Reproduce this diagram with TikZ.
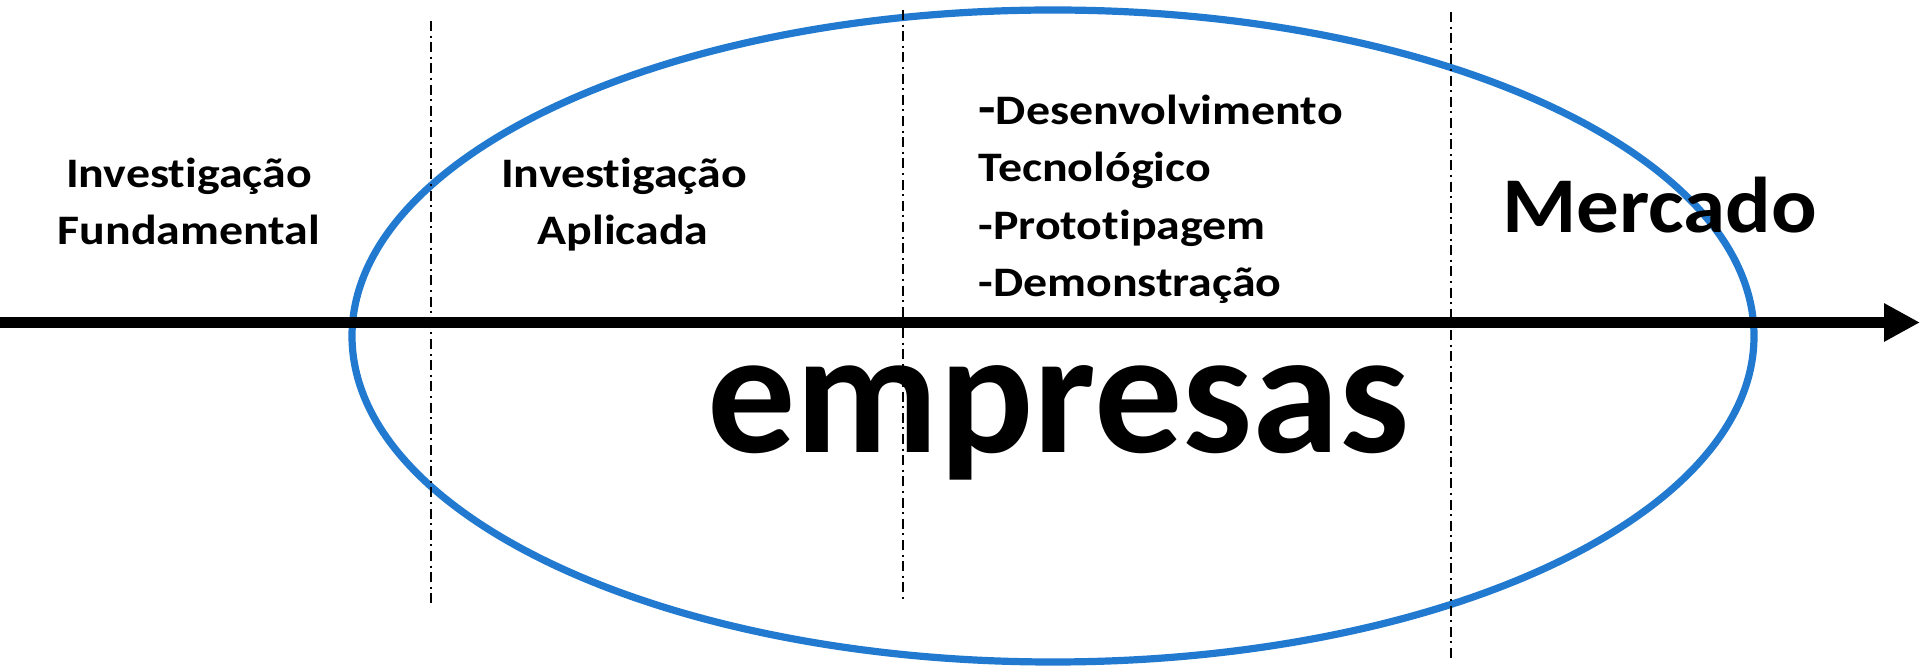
\documentclass[tikz,border=0pt]{standalone}
\usepackage{fontspec}
\setmainfont[Ligatures=NoCommon]{Carlito}
\usetikzlibrary{arrows.meta}
\definecolor{ringblue}{RGB}{33,122,208}
\tikzset{
  lbl/.style={font=\bfseries\fontsize{21}{24}\selectfont, inner sep=0pt, anchor=base, xscale=1.14},
  lstitem/.style={font=\bfseries\fontsize{21}{24}\selectfont, inner sep=0pt, anchor=base west, xscale=1.14},
  divider/.style={line width=0.8pt, dash pattern=on 5pt off 2.3pt on 1pt off 2.3pt},
  ring/.style={draw=ringblue, line width=3.6pt},
  axis/.style={line width=5.8pt, -{Triangle[length=18pt,width=18pt]}}
}
\begin{document}
\begin{tikzpicture}[x=0.5pt,y=-0.5pt]
\useasboundingbox (0,0) rectangle (1920,672);
% ellipse
\draw[ring] (1053,336) ellipse [x radius=350.5pt, y radius=163pt];
% dividers
\coordinate (d1t) at (431,21);  \coordinate (d1b) at (431,607);
\coordinate (d2t) at (903,10);  \coordinate (d2b) at (903,600);
\coordinate (d3t) at (1451,12); \coordinate (d3b) at (1451,660);
\draw[divider] (d1t) -- (d1b);
\draw[divider] (d2t) -- (d2b);
\draw[divider] (d3t) -- (d3b);
% axis
\coordinate (axL) at (0,322.5);
\coordinate (axR) at (1920,322.5);
\draw[axis] (axL) -- (axR);
% labels
\node[lbl] (if1) at (189,188) {Investigação};
\node[lbl] (if2) at (189,245) {Fundamental};
\node[lbl] (ia1) at (624,188) {Investigação};
\node[lbl] (ia2) at (623,245) {Aplicada};
\node[lstitem] (l1) at (978,125) {{\fontsize{25}{25}\selectfont -}Desenvolvimento};
\node[lstitem] (l2) at (978,182) {Tecnológico};
\node[lstitem] (l3) at (978,240) {-Prototipagem};
\node[lstitem] (l4) at (978,297) {-Demonstração};
\node[font=\bfseries\fontsize{39.5}{44}\selectfont, inner sep=0pt, anchor=base west, xscale=1.077] (merc) at (1502,233) {Mercado};
\node[font=\bfseries\fontsize{88}{95}\selectfont, inner sep=0pt, anchor=base west] (emp) at (707,453) {empresas};
\end{tikzpicture}
\end{document}
